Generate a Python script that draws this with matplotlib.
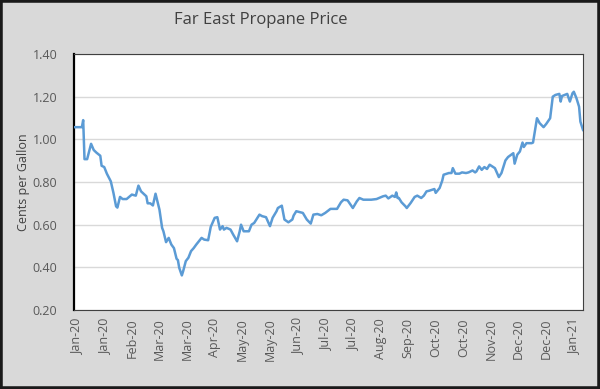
import matplotlib
matplotlib.use("Agg")
import matplotlib.pyplot as plt
import matplotlib.dates as mdates
from matplotlib.patches import Rectangle
import numpy as np
import pandas as pd

# данные
dates = [
    "2019-12-31", "2020-01-06", "2020-01-07", "2020-01-08", "2020-01-10",
    "2020-01-13", "2020-01-15", "2020-01-17", "2020-01-20", "2020-01-21",
    "2020-01-23", "2020-01-25", "2020-01-28", "2020-01-30", "2020-02-01",
    "2020-02-02", "2020-02-04", "2020-02-06", "2020-02-09", "2020-02-13",
    "2020-02-16", "2020-02-18", "2020-02-20", "2020-02-24", "2020-02-25",
    "2020-02-27", "2020-02-29", "2020-03-02", "2020-03-03", "2020-03-05",
    "2020-03-07", "2020-03-08", "2020-03-10", "2020-03-12", "2020-03-14",
    "2020-03-16", "2020-03-18", "2020-03-19", "2020-03-20", "2020-03-22",
    "2020-03-23", "2020-03-25", "2020-03-27", "2020-03-29", "2020-03-31",
    "2020-04-02", "2020-04-06", "2020-04-08", "2020-04-11", "2020-04-13",
    "2020-04-16", "2020-04-18", "2020-04-20", "2020-04-22", "2020-04-23",
    "2020-04-25", "2020-04-28", "2020-04-30", "2020-05-03", "2020-05-05",
    "2020-05-06", "2020-05-08", "2020-05-12", "2020-05-14", "2020-05-16",
    "2020-05-20", "2020-05-22", "2020-05-25", "2020-05-28", "2020-05-30",
    "2020-06-02", "2020-06-03", "2020-06-06", "2020-06-08", "2020-06-11",
    "2020-06-14", "2020-06-15", "2020-06-17", "2020-06-20", "2020-06-22",
    "2020-06-25", "2020-06-28", "2020-06-30", "2020-07-03", "2020-07-06",
    "2020-07-09", "2020-07-13", "2020-07-18", "2020-07-21", "2020-07-23",
    "2020-07-26", "2020-07-30", "2020-08-02", "2020-08-04", "2020-08-07",
    "2020-08-11", "2020-08-13", "2020-08-17", "2020-08-22", "2020-08-24",
    "2020-08-26", "2020-08-29", "2020-08-31", "2020-09-01", "2020-09-02",
    "2020-09-03", "2020-09-05", "2020-09-08", "2020-09-09", "2020-09-12",
    "2020-09-15", "2020-09-17", "2020-09-20", "2020-09-22", "2020-09-24",
    "2020-09-26", "2020-09-30", "2020-10-01", "2020-10-04", "2020-10-06",
    "2020-10-07", "2020-10-11", "2020-10-13", "2020-10-14", "2020-10-16",
    "2020-10-19", "2020-10-21", "2020-10-24", "2020-10-26", "2020-10-29",
    "2020-10-31", "2020-11-01", "2020-11-03", "2020-11-05", "2020-11-07",
    "2020-11-09", "2020-11-11", "2020-11-13", "2020-11-15", "2020-11-18",
    "2020-11-20", "2020-11-23", "2020-11-25", "2020-11-29", "2020-11-30",
    "2020-12-02", "2020-12-04", "2020-12-06", "2020-12-07", "2020-12-09",
    "2020-12-13", "2020-12-14", "2020-12-17", "2020-12-19", "2020-12-22",
    "2020-12-24", "2020-12-27", "2020-12-29", "2020-12-31", "2021-01-03",
    "2021-01-04", "2021-01-05", "2021-01-09", "2021-01-11", "2021-01-13",
    "2021-01-14", "2021-01-16", "2021-01-18", "2021-01-19", "2021-01-21",
]
prices = [
    1.057, 1.057, 1.090, 0.907, 0.907, 0.979, 0.950, 0.938, 0.923, 0.876,
    0.870, 0.839, 0.803, 0.749, 0.686, 0.680, 0.730, 0.720, 0.720, 0.741,
    0.736, 0.783, 0.756, 0.733, 0.700, 0.700, 0.690, 0.745, 0.720, 0.670,
    0.585, 0.569, 0.518, 0.538, 0.507, 0.490, 0.440, 0.434, 0.398, 0.362,
    0.382, 0.429, 0.445, 0.476, 0.490, 0.507, 0.538, 0.530, 0.527, 0.590,
    0.632, 0.635, 0.577, 0.593, 0.577, 0.585, 0.577, 0.554, 0.522, 0.569,
    0.600, 0.569, 0.569, 0.600, 0.608, 0.647, 0.640, 0.635, 0.593, 0.632,
    0.663, 0.678, 0.689, 0.624, 0.611, 0.624, 0.643, 0.663, 0.658, 0.655,
    0.624, 0.605, 0.647, 0.650, 0.644, 0.655, 0.674, 0.674, 0.705, 0.717,
    0.714, 0.678, 0.709, 0.725, 0.717, 0.717, 0.717, 0.720, 0.733, 0.736,
    0.723, 0.736, 0.730, 0.751, 0.725, 0.725, 0.705, 0.686, 0.678, 0.702,
    0.730, 0.736, 0.725, 0.736, 0.756, 0.759, 0.767, 0.749, 0.772, 0.807,
    0.834, 0.842, 0.842, 0.865, 0.839, 0.839, 0.845, 0.842, 0.845, 0.854,
    0.845, 0.850, 0.873, 0.857, 0.870, 0.861, 0.881, 0.873, 0.865, 0.823,
    0.842, 0.901, 0.917, 0.935, 0.886, 0.928, 0.943, 0.985, 0.964, 0.982,
    0.982, 0.985, 1.099, 1.076, 1.057, 1.072, 1.099, 1.200, 1.208, 1.213,
    1.177, 1.203, 1.213, 1.177, 1.216, 1.223, 1.193, 1.153, 1.083, 1.044,
]
y_ticks = [0.20, 0.40, 0.60, 0.80, 1.00, 1.20, 1.40]

x = pd.to_datetime(dates)

fig = plt.figure(figsize=(6.0, 3.89), dpi=100)
fig.patch.set_facecolor("#d9d9d9")

# рамка вокруг всей картинки
fig.patches.append(Rectangle((0, 0), 1, 1, transform=fig.transFigure,
                             fill=False, edgecolor="#1a1a1a", linewidth=4))

ax = fig.add_axes([0.1233, 0.2031, 0.8484, 0.6581])
ax.set_facecolor("white")

ax.plot(x, prices, color="#5b9bd5", linewidth=1.8, zorder=3)

ax.set_ylim(0.2, 1.4)
ax.set_yticks(y_ticks)
ax.set_yticklabels([f"{v:.2f}" for v in y_ticks])
ax.grid(axis="y", color="#d9d9d9", linewidth=1.0)

# подписи каждые 21 день, как в исходнике
ticks = pd.date_range("2020-01-02", periods=19, freq="21D")
ax.set_xticks(ticks)
ax.xaxis.set_major_formatter(mdates.DateFormatter("%b-%y"))
ax.set_xlim(pd.Timestamp("2019-12-31"), pd.Timestamp("2021-01-21"))

ax.tick_params(axis="both", length=0, labelsize=9, labelcolor="#595959",
               labelfontfamily="Open Sans")
ax.tick_params(axis="x", rotation=90, pad=6)
ax.tick_params(axis="y", pad=12)

for s in ax.spines.values():
    s.set_color("#404040")
    s.set_linewidth(0.8)
ax.spines["left"].set_color("black")
ax.spines["left"].set_linewidth(1.6)

ax.set_ylabel("Cents per Gallon", fontsize=9, color="#404040",
              family="Open Sans", labelpad=2)

fig.text(0.434, 0.948, "Far East Propane Price", ha="center", va="center",
         fontsize=12, color="#404040", family="Open Sans")

fig.savefig("out.png", dpi=100, facecolor=fig.get_facecolor())
